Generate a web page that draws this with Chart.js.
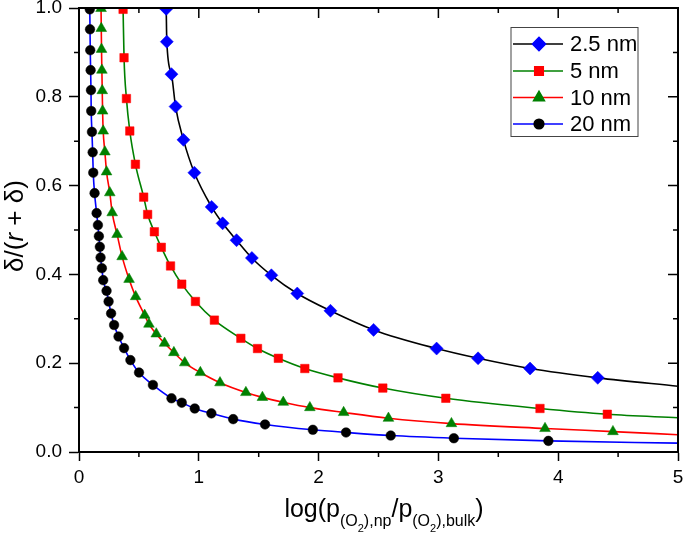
<!DOCTYPE html>
<html>
<head>
<meta charset="utf-8">
<script src="https://cdn.jsdelivr.net/npm/chart.js@4/dist/chart.umd.min.js"></script>
<style>
    html, body { margin:0; padding:0; background:#fff; }
    canvas { display:block; }
</style>
</head>
<body>
<canvas id="deltaChart" width="685" height="534"></canvas>
<script>
/* =====================================================
   DATA
===================================================== */

const seriesNames = ["2.5 nm", "5 nm", "10 nm", "20 nm"];

const x25 = [0.728, 0.733, 0.772, 0.806, 0.872, 0.963, 1.107, 1.199, 1.315, 1.443, 1.606, 1.822, 2.099, 2.459, 2.985, 3.331, 3.765, 4.330];
const y25 = [0.998, 0.924, 0.851, 0.778, 0.703, 0.629, 0.552, 0.515, 0.477, 0.437, 0.398, 0.357, 0.318, 0.275, 0.233, 0.211, 0.188, 0.167];

const x5 = [0.368, 0.376, 0.396, 0.424, 0.471, 0.540, 0.573, 0.629, 0.687, 0.764, 0.858, 0.972, 1.130, 1.351, 1.490, 1.664, 1.885, 2.162, 2.536, 3.062, 3.848, 4.410];
const y5 = [0.997, 0.888, 0.796, 0.723, 0.648, 0.574, 0.535, 0.496, 0.461, 0.419, 0.378, 0.339, 0.297, 0.256, 0.233, 0.211, 0.188, 0.167, 0.144, 0.121, 0.098, 0.085];

const x10 = [0.184, 0.186, 0.188, 0.191, 0.194, 0.197, 0.202, 0.216, 0.230, 0.257, 0.277, 0.318, 0.360, 0.418, 0.473, 0.548, 0.584, 0.645, 0.714, 0.792, 0.883, 1.013, 1.177, 1.393, 1.531, 1.705, 1.927, 2.209, 2.583, 3.109, 3.890, 4.457];
const y10 = [0.999, 0.954, 0.907, 0.860, 0.814, 0.768, 0.723, 0.676, 0.631, 0.584, 0.539, 0.490, 0.440, 0.389, 0.350, 0.308, 0.288, 0.266, 0.245, 0.224, 0.201, 0.179, 0.156, 0.134, 0.123, 0.112, 0.100, 0.089, 0.076, 0.064, 0.053, 0.046];

const x20 = [0.090, 0.092, 0.094, 0.097, 0.100, 0.102, 0.108, 0.114, 0.119, 0.130, 0.147, 0.158, 0.166, 0.174, 0.180, 0.191, 0.202, 0.230, 0.247, 0.268, 0.293, 0.330, 0.376, 0.429, 0.501, 0.617, 0.772, 0.858, 0.966, 1.105, 1.287, 1.553, 1.952, 2.229, 2.602, 3.129, 3.918];
const y20 = [0.997, 0.952, 0.905, 0.860, 0.815, 0.768, 0.721, 0.675, 0.629, 0.583, 0.538, 0.511, 0.486, 0.462, 0.438, 0.414, 0.387, 0.363, 0.339, 0.312, 0.286, 0.260, 0.234, 0.207, 0.179, 0.151, 0.121, 0.111, 0.098, 0.087, 0.074, 0.062, 0.050, 0.044, 0.037, 0.031, 0.025];

// where each fitted curve leaves the plot at x = 5
const curveEndX = 5;
const curveEndY = [0.148, 0.077, 0.039, 0.020];

const xTicks = [0, 1, 2, 3, 4, 5];
const xMinor = [0.5, 1.5, 2.5, 3.5, 4.5];
const yTicks = [0, 0.2, 0.4, 0.6, 0.8, 1.0];
const yMinor = [0.1, 0.3, 0.5, 0.7, 0.9];


/* =========================
   STYLES
========================= */

const lineColors = ["#000000", "#008000", "#ff0000", "#0000ff"];
const markColors = ["#0000ff", "#ff0000", "#008000", "#000000"];
const markStyles = ["rectRot", "rect", "triangle", "circle"];
const markRadius = [6.5, 6, 6.2, 4.8];

const FONT = "Arial, 'Liberation Sans', sans-serif";

const allX = [x25, x5, x10, x20];
const allY = [y25, y5, y10, y20];

function toPoints(xs, ys){
    return xs.map((x, i) => ({ x, y: ys[i] }));
}

const noClip = { left:0, top:0, right:0, bottom:0 };

const datasets = [];

allX.forEach((xs, i) => {

    // fitted curve
    datasets.push({
        label: seriesNames[i] + " fit",
        data: toPoints(xs, allY[i]).concat([{ x: curveEndX, y: curveEndY[i] }]),
        showLine: true,
        borderColor: lineColors[i],
        borderWidth: 1.6,
        pointRadius: 0,
        cubicInterpolationMode: "monotone",
        clip: noClip,
        order: 2
    });

    // markers
    datasets.push({
        label: seriesNames[i],
        data: toPoints(xs, allY[i]),
        showLine: false,
        pointStyle: markStyles[i],
        pointRadius: markRadius[i],
        pointBackgroundColor: markColors[i],
        pointBorderColor: markColors[i],
        pointBorderWidth: 0.5,
        clip: noClip,
        order: 1
    });

});


/* =========================
   FRAME, LEGEND, TITLES
========================= */

const extras = {

    id: "extras",

    afterDraw(chart){

        const ctx = chart.ctx;
        const a = chart.chartArea;
        const xs = chart.scales.x;
        const ys = chart.scales.y;

        ctx.save();

        // top and right frame
        ctx.strokeStyle = "#000";
        ctx.lineWidth = 2;
        ctx.beginPath();
        ctx.moveTo(a.left, a.top);
        ctx.lineTo(a.right, a.top);
        ctx.lineTo(a.right, a.bottom);
        ctx.stroke();

        ctx.lineWidth = 1.5;
        ctx.beginPath();

        xTicks.forEach(v => {
            const px = xs.getPixelForValue(v);
            ctx.moveTo(px, a.top);
            ctx.lineTo(px, a.top + 10);
        });

        xMinor.forEach(v => {
            const px = xs.getPixelForValue(v);
            ctx.moveTo(px, a.bottom);
            ctx.lineTo(px, a.bottom + 5);
            ctx.moveTo(px, a.top);
            ctx.lineTo(px, a.top + 5);
        });

        yTicks.forEach(v => {
            const py = ys.getPixelForValue(v);
            ctx.moveTo(a.right, py);
            ctx.lineTo(a.right - 10, py);
        });

        yMinor.forEach(v => {
            const py = ys.getPixelForValue(v);
            ctx.moveTo(a.left, py);
            ctx.lineTo(a.left - 5, py);
            ctx.moveTo(a.right, py);
            ctx.lineTo(a.right - 5, py);
        });

        ctx.stroke();

        // legend
        ctx.strokeStyle = "#444";
        ctx.lineWidth = 1;
        ctx.strokeRect(511, 27.5, 127, 109);

        const rowY = [44, 71, 97.5, 124];

        ctx.font = "22px " + FONT;
        ctx.textBaseline = "middle";
        ctx.textAlign = "left";

        seriesNames.forEach((name, i) => {

            ctx.strokeStyle = lineColors[i];
            ctx.lineWidth = 1.6;
            ctx.beginPath();
            ctx.moveTo(513, rowY[i]);
            ctx.lineTo(563, rowY[i]);
            ctx.stroke();

            ctx.fillStyle = markColors[i];
            ctx.strokeStyle = markColors[i];
            Chart.helpers.drawPoint(ctx, {
                pointStyle: markStyles[i],
                radius: markRadius[i],
                rotation: 0,
                borderWidth: 0.5
            }, 539, rowY[i]);

            ctx.fillStyle = "#000";
            ctx.fillText(name, 570, rowY[i] + 1);

        });

        // x title with subscripts
        const parts = [
            ["log(p", 25, 0],
            ["(O", 16, 9],
            ["2", 11, 15],
            ["),np", 16, 9],
            ["/p", 25, 0],
            ["(O", 16, 9],
            ["2", 11, 15],
            ["),bulk", 16, 9],
            [")", 25, 0]
        ];

        ctx.fillStyle = "#000";
        ctx.textBaseline = "alphabetic";

        let total = 0;
        parts.forEach(p => {
            ctx.font = p[1] + "px " + FONT;
            total += ctx.measureText(p[0]).width;
        });

        let cx = 384 - total / 2;
        parts.forEach(p => {
            ctx.font = p[1] + "px " + FONT;
            ctx.fillText(p[0], cx, 517 + p[2]);
            cx += ctx.measureText(p[0]).width;
        });

        // y title, rotated
        const yParts = [
            ["δ/(", "26px " + FONT],
            ["r", "italic 26px " + FONT],
            [" + δ)", "26px " + FONT]
        ];

        ctx.translate(16, 226);
        ctx.rotate(-Math.PI / 2);
        ctx.textBaseline = "middle";

        let yTotal = 0;
        yParts.forEach(p => {
            ctx.font = p[1];
            yTotal += ctx.measureText(p[0]).width;
        });

        let ty = -yTotal / 2;
        yParts.forEach(p => {
            ctx.font = p[1];
            ctx.fillText(p[0], ty, 0);
            ty += ctx.measureText(p[0]).width;
        });

        ctx.restore();

    }

};


/* =========================
   CHART
========================= */

new Chart(document.getElementById("deltaChart"), {

    type: "scatter",

    data: { datasets },

    options: {

        responsive: false,

        animation: false,

        layout: {
            padding: { top: 8, right: 4, left: 0, bottom: 0 }
        },

        plugins: {
            legend: { display: false },
            tooltip: { enabled: false }
        },

        scales: {

            x: {
                type: "linear",
                min: 0,
                max: 5,
                afterFit: s => {
                    s.height = 82;
                    s.paddingLeft = 0;
                    s.paddingRight = 0;
                },
                afterBuildTicks: s => { s.ticks = xTicks.map(v => ({ value: v })); },
                border: { color: "#000", width: 2 },
                grid: {
                    drawOnChartArea: false,
                    tickLength: 9,
                    tickWidth: 1.5,
                    color: "#000"
                },
                ticks: {
                    padding: 5,
                    color: "#000",
                    font: { family: FONT, size: 19 },
                    callback: v => String(v)
                }
            },

            y: {
                type: "linear",
                min: 0,
                max: 1,
                afterFit: s => {
                    s.width = 79;
                    s.paddingTop = 0;
                    s.paddingBottom = 0;
                },
                afterBuildTicks: s => { s.ticks = yTicks.map(v => ({ value: v })); },
                border: { color: "#000", width: 2 },
                grid: {
                    drawOnChartArea: false,
                    tickLength: 10,
                    tickWidth: 1.5,
                    color: "#000"
                },
                ticks: {
                    padding: 7,
                    color: "#000",
                    font: { family: FONT, size: 19 },
                    callback: v => Number(v).toFixed(1)
                }
            }

        }

    },

    plugins: [extras]

});
</script>
</body>
</html>
